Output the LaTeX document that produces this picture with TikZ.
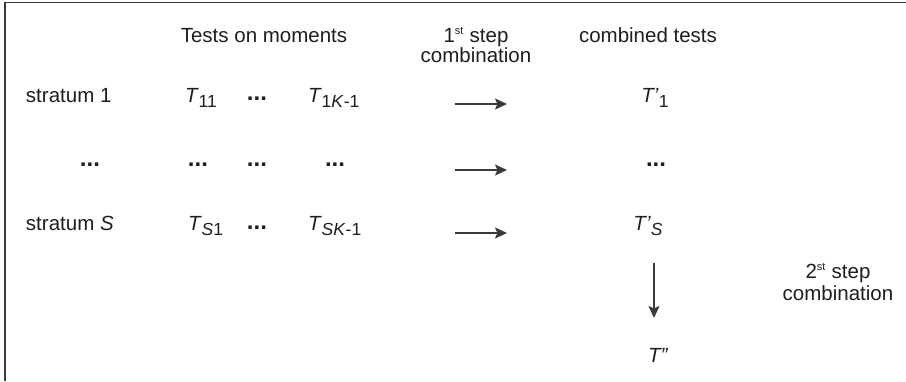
\documentclass[tikz,border=0pt]{standalone}
\usepackage{fontspec}
\setmainfont{Liberation Sans}
\usetikzlibrary{arrows.meta}
\definecolor{ink}{HTML}{1E1E1E}
\definecolor{rule}{HTML}{3A3A3A}
\newcommand{\mysub}[1]{\raisebox{-0.28em}{\fontsize{17.5}{17.5}\selectfont #1}}
\newcommand{\mydots}{{\fontsize{24}{24}\selectfont\bfseries ...}}
\tikzset{
  lbl/.style={inner sep=0pt, outer sep=0pt, anchor=base, text=ink, font=\fontsize{20.5}{24}\selectfont},
  lblw/.style={lbl, anchor=base west},
  flow/.style={draw=rule, line width=1.7pt, -{Stealth[length=12pt,width=11pt,inset=2.5pt]}},
  frame/.style={draw=rule, line width=1.6pt}
}
\begin{document}
\begin{tikzpicture}[x=1pt,y=-1pt]
\useasboundingbox (0,0) rectangle (906,381);
\draw[frame] (5,381) -- (5,2.5) -- (906,2.5);
% header
\node[lbl] (hT) at (264,42) {Tests on moments};
\node[lbl] (h1a) at (476,42) {1\textsuperscript{\fontsize{11}{11}\selectfont st} step};
\node[lbl] (h1b) at (476,62) {combination};
\node[lbl] (hC) at (648,42) {combined tests};
% row 1
\node[lblw] (s1) at (26,102) {stratum 1};
\node[lblw] (t11) at (185,102) {\textit{T}\mysub{11}};
\node[lbl] (d11) at (257,100) {\mydots};
\node[lblw] (t1k) at (308,102) {\textit{T}\mysub{1\textit{K}-1}};
\coordinate (a1s) at (455,104);
\coordinate (a1e) at (507,104);
\node[lbl] (tp1) at (655,102) {\textit{T’}\mysub{1}};
% row 2
\node[lbl] (d20) at (90,166) {\mydots};
\node[lbl] (d21) at (198,166) {\mydots};
\node[lbl] (d22) at (257,166) {\mydots};
\node[lbl] (d23) at (335,166) {\mydots};
\coordinate (a2s) at (455,170);
\coordinate (a2e) at (507,170);
\node[lbl] (d24) at (656,166) {\mydots};
% row 3
\node[lblw] (sS) at (26,230) {stratum \textit{S}};
\node[lblw] (tS1) at (188,230) {\textit{T}\mysub{\textit{S}1}};
\node[lbl] (dS) at (257,229) {\mydots};
\node[lblw] (tSk) at (308,230) {\textit{T}\mysub{\textit{SK}-1}};
\coordinate (a3s) at (455,233);
\coordinate (a3e) at (507,233);
\node[lbl] (tpS) at (648,230) {\textit{T’}\mysub{\textit{S}}};
% second step
\coordinate (dA) at (654,263);
\coordinate (dB) at (654,318);
\node[lbl] (h2a) at (838,278) {2\textsuperscript{\fontsize{11}{11}\selectfont st} step};
\node[lbl] (h2b) at (838,300) {combination};
\node[lblw] (tpp) at (648,362) {\textit{T”}};
% arrows
\draw[flow] (a1s) -- (a1e);
\draw[flow] (a2s) -- (a2e);
\draw[flow] (a3s) -- (a3e);
\draw[flow] (dA) -- (dB);
\end{tikzpicture}
\end{document}
